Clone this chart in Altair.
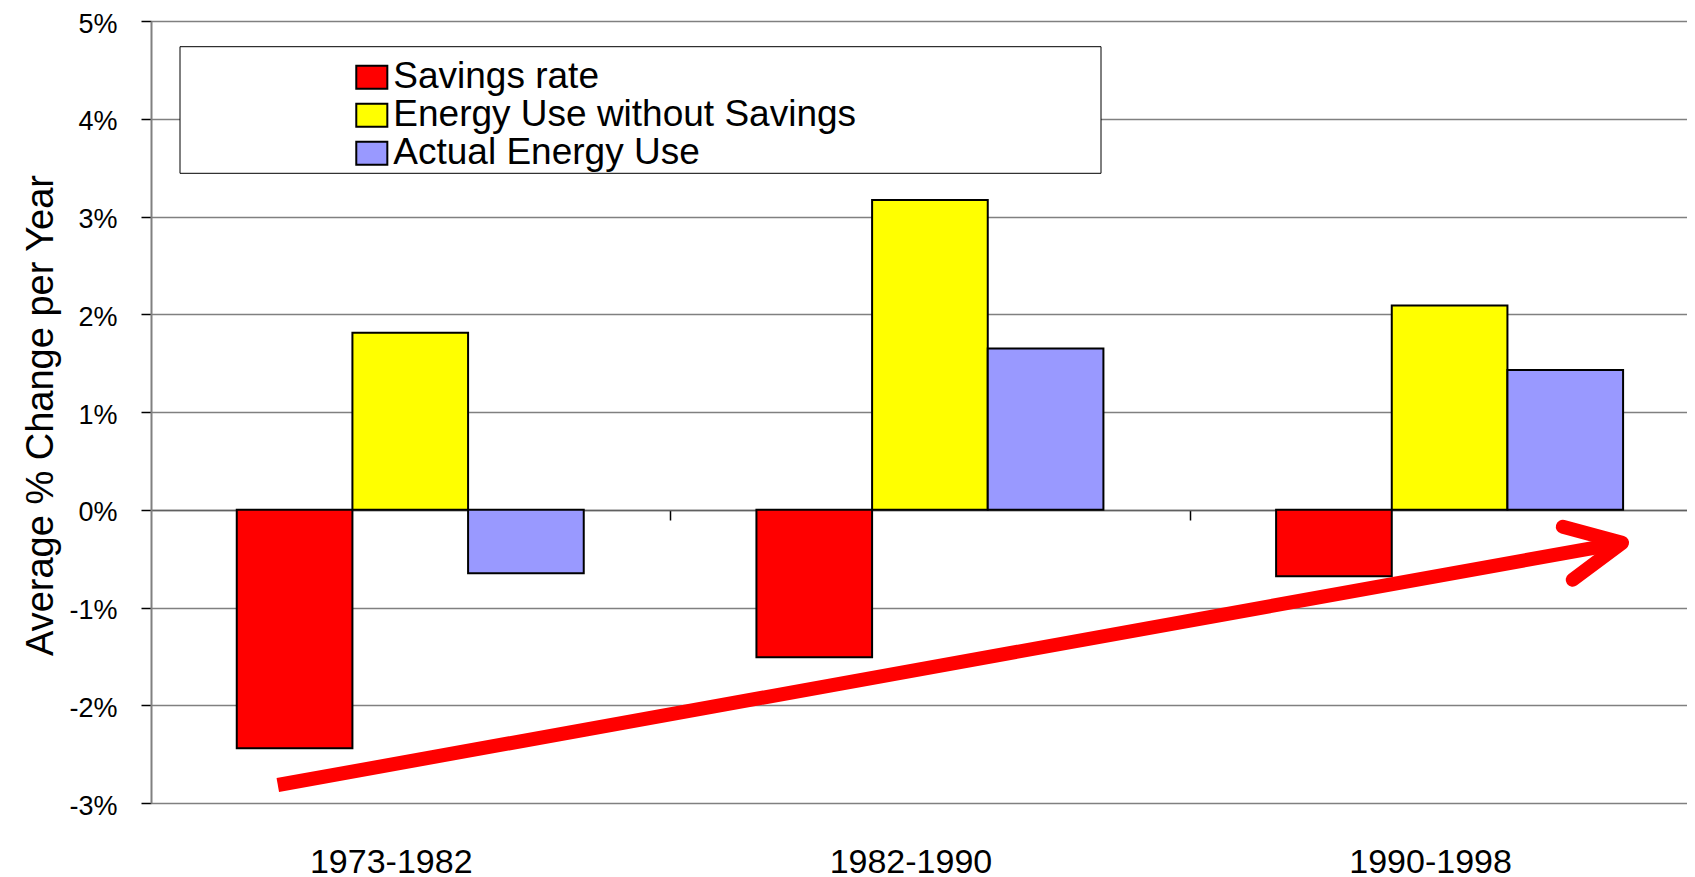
import altair as alt
import pandas as pd

# ---------------- data ----------------
periods = ["1973-1982", "1982-1990", "1990-1998"]
series = ["Savings rate", "Energy Use without Savings", "Actual Energy Use"]
savings_rate = [-2.44, -1.51, -0.68]
energy_without_savings = [1.81, 3.17, 2.09]
actual_energy_use = [-0.65, 1.65, 1.43]
colors = ["#FF0000", "#FFFF00", "#9999FF"]
y_ticks = [-3, -2, -1, 0, 1, 2, 3, 4, 5]

# trend arrow: x in period units (0, 1, 2 = period centres), y in %
arrow_shaft_x = [-0.255, 2.332]
arrow_shaft_y = [-2.816, -0.338]
arrow_head_x = [2.218, 2.332, 2.237]
arrow_head_y = [-0.174, -0.338, -0.716]

FONT = "Liberation Sans, Arial, Helvetica, sans-serif"
W, H = 1536, 782

rows = []
for i, p in enumerate(periods):
    for s, vals in zip(series, [savings_rate, energy_without_savings, actual_energy_use]):
        rows.append({"period": p, "series": s, "value": vals[i]})
df = pd.DataFrame(rows)

shaft_df = pd.DataFrame({"x": arrow_shaft_x, "value": arrow_shaft_y, "i": list(range(len(arrow_shaft_x)))})
head_df = pd.DataFrame({"x": arrow_head_x, "value": arrow_head_y, "i": list(range(len(arrow_head_x)))})

xband = alt.Scale(domain=periods, paddingInner=0.3323, paddingOuter=0.144, align=0.573)
yscale = alt.Scale(domain=[-3, 5], nice=False, zero=True)
arrow_x = alt.Scale(domain=[-0.499, 2.457], nice=False, zero=False)

y_axis = alt.Axis(values=y_ticks, labelExpr="datum.value + '%'",
                  title="Average % Change per Year",
                  titleFont=FONT, titleFontSize=38, titleFontWeight="normal",
                  titleColor="black", titleX=-99, titleY=394, titleAngle=270,
                  titleAlign="center", titleBaseline="alphabetic",
                  labelFont=FONT, labelFontSize=27, labelColor="black",
                  labelBaseline="alphabetic", labelOffset=11,
                  labelPadding=24, tickSize=10, tickColor="black", tickWidth=1.5,
                  domainColor="#808080", domainWidth=2,
                  grid=True, gridColor="#808080", gridWidth=1.5)
y_enc = alt.Y("value:Q", scale=yscale, axis=y_axis, title="Average % Change per Year")

# legend frame
frame = alt.Chart(alt.Data(values=[{"k": 1}])).mark_rect(
    fill="white", stroke="black", strokeWidth=1
).encode(
    x=alt.value(29), x2=alt.value(950), y=alt.value(25.7), y2=alt.value(152.3)
)

# zero line with category tick marks
zero_axis = alt.Chart(df).mark_bar(opacity=0).encode(
    x=alt.X("period:N", sort=periods, scale=xband,
            axis=alt.Axis(orient="bottom", offset=-293, labels=False, title=None,
                          grid=False, domain=True, domainColor="#606060", domainWidth=1.5,
                          ticks=True, tickSize=10, tickColor="black", tickWidth=1.5,
                          tickOffset=259.8)),
    y=y_enc,
)

bars = alt.Chart(df).mark_bar(stroke="black", strokeWidth=2).encode(
    x=alt.X("period:N", sort=periods, scale=xband,
            axis=alt.Axis(orient="bottom", title=None, domain=False, ticks=False, grid=False,
                          labelAngle=0, labelFont=FONT, labelFontSize=34, labelColor="black",
                          labelPadding=69, labelBaseline="alphabetic", labelOffset=-19)),
    xOffset=alt.XOffset("series:N", sort=series,
                        scale=alt.Scale(domain=series, paddingInner=0, paddingOuter=0)),
    y=y_enc,
    color=alt.Color("series:N", sort=series,
                    scale=alt.Scale(domain=series, range=colors),
                    legend=alt.Legend(orient="none", legendX=202.3, legendY=37.7,
                                      title=None, padding=0,
                                      labelFont=FONT, labelFontSize=37, labelColor="black",
                                      labelLimit=1000, labelOffset=3,
                                      symbolType="M-1.35,-1H1.35V1H-1.35Z", symbolSize=529,
                                      symbolStrokeColor="black", symbolStrokeWidth=2,
                                      symbolOpacity=1, rowPadding=0)),
)

shaft = alt.Chart(shaft_df).mark_line(color="#FF0000", strokeWidth=14, strokeCap="butt").encode(
    x=alt.X("x:Q", scale=arrow_x, axis=None),
    y=y_enc,
    order="i:O",
)
head = alt.Chart(head_df).mark_line(color="#FF0000", strokeWidth=14, strokeCap="round",
                                    strokeJoin="round").encode(
    x=alt.X("x:Q", scale=arrow_x, axis=None),
    y=y_enc,
    order="i:O",
)

chart = alt.layer(frame, zero_axis, bars, shaft, head).resolve_scale(
    x="independent"
).properties(
    width=W, height=H,
    autosize=alt.AutoSizeParams(type="none"),
    padding={"left": 143, "top": 13, "right": 0, "bottom": 80},
).configure_view(strokeWidth=0)

chart.save("out.html", embed_options={"renderer": "svg", "actions": False})
